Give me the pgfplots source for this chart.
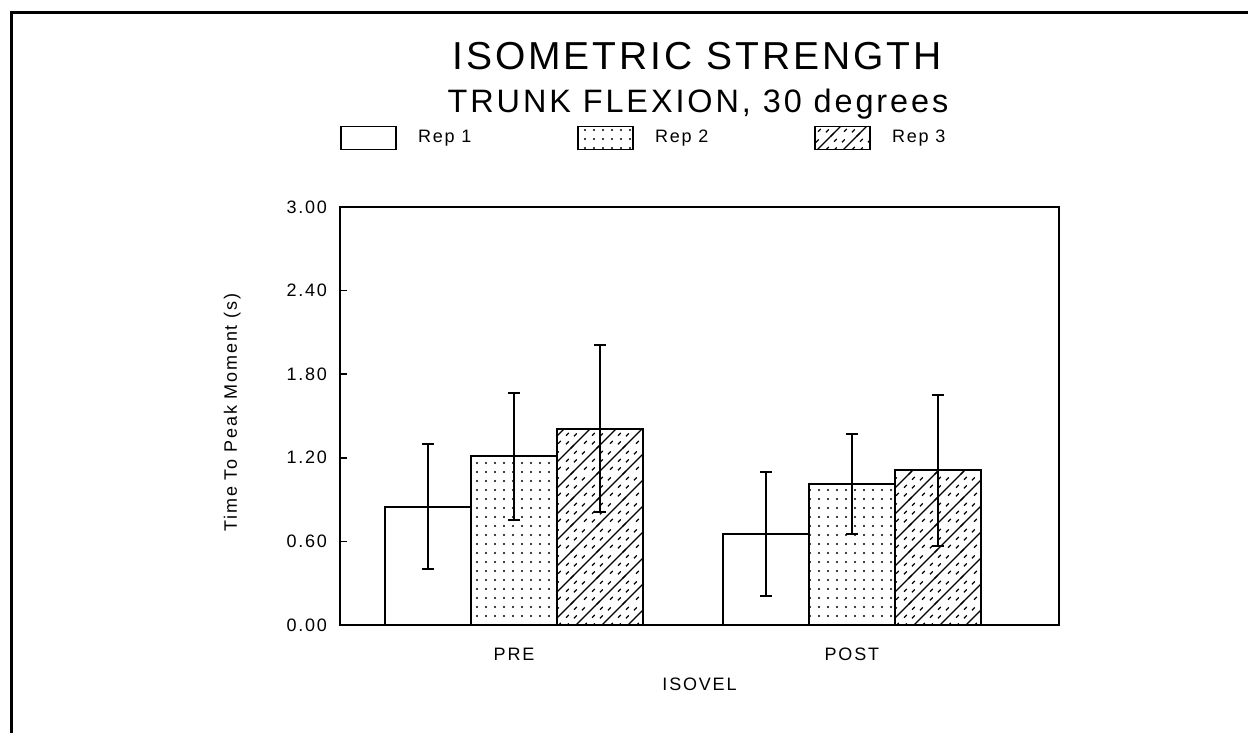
\documentclass[border=0pt]{standalone}
\usepackage{fontspec}
\setmainfont{Liberation Sans}
\newfontfamily\titlefont{Liberation Sans}[LetterSpace=7.5]
\newfontfamily\subfont{Liberation Sans}[LetterSpace=9]
\newfontfamily\labelfont{Liberation Sans}[LetterSpace=10]
\usepackage{pgfplots}
\pgfplotsset{compat=1.18}
\usetikzlibrary{patterns,patterns.meta}

% diagonal hatch with dashed lines in between (Rep 3)
\pgfdeclarepatternformonly{hatchdash}{\pgfqpoint{-1pt}{-1pt}}{\pgfqpoint{14pt}{14pt}}{\pgfqpoint{13pt}{13pt}}{%
  \pgfsetlinewidth{0.6pt}%
  \pgfpathmoveto{\pgfqpoint{-1pt}{-1pt}}\pgfpathlineto{\pgfqpoint{14pt}{14pt}}%
  \pgfpathmoveto{\pgfqpoint{6pt}{1.67pt}}\pgfpathlineto{\pgfqpoint{7.4pt}{3.07pt}}%
  \pgfpathmoveto{\pgfqpoint{10pt}{5.67pt}}\pgfpathlineto{\pgfqpoint{11.4pt}{7.07pt}}%
  \pgfpathmoveto{\pgfqpoint{1pt}{9.67pt}}\pgfpathlineto{\pgfqpoint{2.4pt}{11.07pt}}%
  \pgfpathmoveto{\pgfqpoint{10pt}{1.33pt}}\pgfpathlineto{\pgfqpoint{11.4pt}{2.73pt}}%
  \pgfpathmoveto{\pgfqpoint{1pt}{5.33pt}}\pgfpathlineto{\pgfqpoint{2.4pt}{6.73pt}}%
  \pgfpathmoveto{\pgfqpoint{5pt}{9.33pt}}\pgfpathlineto{\pgfqpoint{6.4pt}{10.73pt}}%
  \pgfusepath{stroke}}

\pgfplotsset{legbox/.style={legend image code/.code={\draw[##1, line width=0.8pt] (0pt,-5.75pt) rectangle (27.5pt,5.75pt);}}}

\begin{document}
\begin{tikzpicture}
\useasboundingbox (0,0) rectangle (624pt,366.5pt);
\draw[line width=1.5pt] (5.5pt,-2pt) -- (5.5pt,360pt) -- (626pt,360pt);

\begin{axis}[
    at={(170pt,54pt)}, anchor=south west,
    scale only axis,
    width=359.5pt, height=209pt,
    ybar=0pt, bar width=43pt,
    xmin=0.485, xmax=2.613,
    ymin=0, ymax=3,
    xtick={1,2}, xticklabels={PRE,POST},
    ytick={0,0.6,1.2,1.8,2.4,3},
    yticklabel style={/pgf/number format/fixed, /pgf/number format/fixed zerofill,
        /pgf/number format/precision=2, /pgf/number format/assume math mode=true, xshift=-3pt},
    tick label style={font=\labelfont\fontsize{9}{10}\selectfont},
    xticklabel style={yshift=-8pt},
    ytick pos=left, tick align=inside, major tick length=3.5pt,
    xtick style={draw=none},
    ytick style={line width=0.8pt, black},
    axis line style={line width=1.25pt},
    xlabel={ISOVEL},
    ylabel={Time To Peak Moment (s)},
    label style={font=\labelfont\fontsize{9}{10}\selectfont},
    x label style={at={(axis description cs:0.5,-0.1423)}, anchor=center},
    y label style={at={(axis description cs:-0.150,0.508)}, anchor=center},
    legend columns=3,
    legend style={at={(axis description cs:0,1.165)}, anchor=west, draw=none, fill=none,
        inner sep=0pt, font=\labelfont\fontsize{9}{10}\selectfont,
        /tikz/every odd column/.append style={column sep=8.5pt},
        /tikz/every even column/.append style={column sep=51pt}},
    error bars/y dir=both, error bars/y explicit,
    error bars/error bar style={line width=1pt, black},
    error bars/error mark options={rotate=90, mark size=3pt, line width=1pt, black},
]
\addplot[legbox, draw=black, line width=1pt, fill=white] coordinates {
    (1,0.85) +- (0,0.45)
    (2,0.65) +- (0,0.445)
};
\addplot[legbox, draw=black, line width=1pt, pattern={Dots[distance=4.5pt,radius=0.55pt]}] coordinates {
    (1,1.21) +- (0,0.455)
    (2,1.01) +- (0,0.36)
};
\addplot[legbox, draw=black, line width=1pt, pattern=hatchdash] coordinates {
    (1,1.41) +- (0,0.60)
    (2,1.11) +- (0,0.54)
};
\legend{Rep 1,Rep 2,Rep 3}
\end{axis}

\node[anchor=base, inner sep=0pt, font=\titlefont\fontsize{19.5}{22}\selectfont] at (348.5pt,331.5pt) {ISOMETRIC STRENGTH};
\node[anchor=base, inner sep=0pt, font=\subfont\fontsize{16.2}{19}\selectfont] at (349pt,310pt) {TRUNK FLEXION, 30 degrees};
\end{tikzpicture}
\end{document}
